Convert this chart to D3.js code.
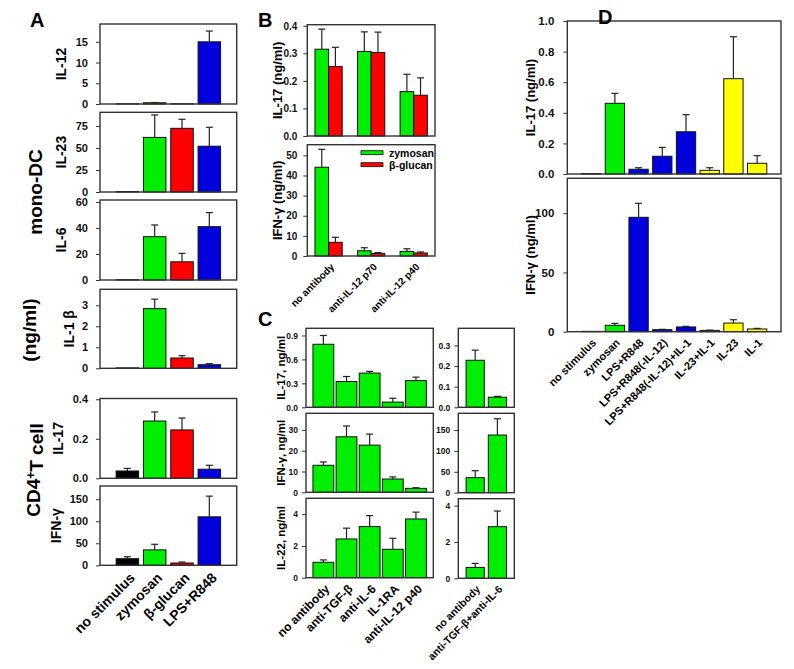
<!DOCTYPE html>
<html>
<head>
<meta charset="utf-8">
<script src="https://cdn.jsdelivr.net/npm/d3@7"></script>
<style>
  body { margin: 0; background: #fff; }
  svg { font-family: Arial, "Liberation Sans", sans-serif; font-weight: bold; }
</style>
</head>
<body>
<svg id="fig" width="794" height="669"></svg>
<script>
// ---- data ----
// panel A (mono-DC / CD4+ T cell)
var catA = ["no stimulus", "zymosan", "\u03b2-glucan", "LPS+R848"];
var il12A = [0.05, 0.3, 0.05, 15.0],      il12A_sd = [0, 0.05, 0, 2.6];
var il23A = [0.5, 62, 72.3, 52],          il23A_sd = [0, 25.5, 10.3, 21.5];
var il6A = [0.2, 33.3, 14, 41],           il6A_sd = [0, 9, 6.5, 10.8];
var il1bA = [0.02, 2.84, 0.49, 0.17],     il1bA_sd = [0, 0.45, 0.11, 0.05];
var il17A = [0.037, 0.29, 0.245, 0.046],  il17A_sd = [0.013, 0.046, 0.06, 0.02];
var ifngA = [15, 35, 5.2, 110],           ifngA_sd = [4.5, 12.7, 2.3, 47];

// panel B (antibody blocking, zymosan vs beta-glucan)
var catB = ["no antibody", "anti-IL-12 p70", "anti-IL-12 p40"];
var seriesB = ["zymosan", "\u03b2-glucan"];
var il17B_zym = [0.315, 0.307, 0.161],  il17B_zym_sd = [0.073, 0.071, 0.063];
var il17B_glu = [0.252, 0.303, 0.148],  il17B_glu_sd = [0.07, 0.074, 0.063];
var ifngB_zym = [44.1, 2.6, 2.3],       ifngB_zym_sd = [8.9, 1.5, 1.3];
var ifngB_glu = [6.8, 1.3, 1.5],        ifngB_glu_sd = [2.5, 0.4, 0.5];

// panel C
var catC = ["no antibody", "anti-TGF-\u03b2", "anti-IL-6", "IL-1RA", "anti-IL-12 p40"];
var il17C = [0.79, 0.323, 0.429, 0.065, 0.335], il17C_sd = [0.11, 0.063, 0.021, 0.048, 0.043];
var ifngC = [13, 26.7, 22.7, 6.4, 1.9],          ifngC_sd = [1.6, 5.2, 5.3, 1.0, 0.3];
var il22C = [0.97, 2.44, 3.22, 1.79, 3.7],       il22C_sd = [0.15, 0.68, 0.69, 0.69, 0.43];
var catC2 = ["no antibody", "anti-TGF-\u03b2+anti-IL-6"];
var il17C2 = [0.228, 0.049], il17C2_sd = [0.049, 0.004];
var ifngC2 = [36, 138],      ifngC2_sd = [16.6, 39];
var il22C2 = [0.6, 2.84],    il22C2_sd = [0.22, 0.86];

// panel D
var catD = ["no stimulus", "zymosan", "LPS+R848", "LPS+R848(-IL-12)", "LPS+R848(-IL-12)+IL-1",
            "IL-23+IL-1", "IL-23", "IL-1"];
var il17D = [0.003, 0.462, 0.031, 0.116, 0.276, 0.024, 0.623, 0.07];
var il17D_sd = [0, 0.065, 0.01, 0.058, 0.112, 0.017, 0.274, 0.05];
var ifngD = [0.3, 5.4, 96.5, 1.7, 4, 1.1, 7.3, 2.3];
var ifngD_sd = [0, 1.6, 11.8, 0.3, 0.5, 0.2, 2.8, 0.5];

// ---- colours ----
var GREEN = "#00ee00", RED = "#ff0000", BLUE = "#0000dd", YEL = "#ffff00", BLK = "#000000";
var colA = [BLK, GREEN, RED, BLUE];
var colD = [BLK, GREEN, BLUE, BLUE, BLUE, YEL, YEL, YEL];

var svg = d3.select("#fig");

function drawErr(g, cx, yv, ye, cap) {
  g.append("line").attr("x1", cx).attr("x2", cx).attr("y1", yv).attr("y2", ye)
    .attr("stroke", "#222").attr("stroke-width", 1.2);
  g.append("line").attr("x1", cx - cap).attr("x2", cx + cap).attr("y1", ye).attr("y2", ye)
    .attr("stroke", "#222").attr("stroke-width", 1.2);
}

function yAxis(g, o, y) {
  g.append("g").attr("transform", "translate(" + o.x0 + ",0)")
    .call(d3.axisLeft(y).tickValues(o.ticks).tickFormat(d3.format(o.fmt)).tickSize(4).tickPadding(o.pad))
    .call(function(a) { a.select(".domain").remove(); })
    .call(function(a) { a.selectAll("line").attr("stroke", "#333"); })
    .selectAll("text").style("font-size", o.fs + "px").attr("fill", "#111")
    .style("font-family", "Arial, 'Liberation Sans', sans-serif");
}

function frame(g, o) {
  g.append("rect").attr("x", o.x0).attr("y", o.y0)
    .attr("width", o.x1 - o.x0).attr("height", o.y1 - o.y0)
    .attr("fill", "none").attr("stroke", "#333").attr("stroke-width", 1.4);
}

function yLabel(g, o) {
  if (!o.label) return;
  g.append("text")
    .attr("transform", "translate(" + o.lx + "," + ((o.y0 + o.y1) / 2) + ") rotate(-90)")
    .attr("text-anchor", "middle")
    .style("font-size", o.lfs + "px")
    .text(o.label);
}

function xLabels(g, cats, xs, o) {
  cats.forEach(function(c, i) {
    g.append("text")
      .attr("transform", "translate(" + (xs[i] + o.cdx) + "," + (o.y1 + o.cdy) + ") rotate(-45)")
      .attr("text-anchor", "end")
      .attr("dy", "0.35em")
      .style("font-size", o.cfs + "px")
      .text(c);
  });
}

function barPanel(o) {
  var g = svg.append("g");
  var idx = d3.range(o.vals.length);
  var x = d3.scaleBand().domain(idx).range([o.x0, o.x1]).paddingInner(o.pin).paddingOuter(o.pout);
  var y = d3.scaleLinear().domain([0, o.max]).range([o.y1, o.y0]);
  yAxis(g, o, y);
  g.selectAll("rect.bar").data(o.vals).enter().append("rect")
    .attr("class", "bar")
    .attr("x", function(d, i) { return x(i); })
    .attr("width", x.bandwidth())
    .attr("y", function(d) { return y(d); })
    .attr("height", function(d) { return y(0) - y(d); })
    .attr("fill", function(d, i) { return o.colors[i]; })
    .attr("stroke", "#111").attr("stroke-width", 1);
  o.vals.forEach(function(v, i) {
    if (o.sd[i] > 0) drawErr(g, x(i) + x.bandwidth() / 2, y(v), y(v + o.sd[i]), 3.5);
  });
  frame(g, o);
  yLabel(g, o);
  if (o.cats) xLabels(g, o.cats, idx.map(function(i) { return x(i) + x.bandwidth() / 2; }), o);
}

function groupPanel(o) {
  var g = svg.append("g");
  var idx = d3.range(o.cats.length);
  var x = d3.scaleBand().domain(idx).range([o.x0, o.x1]).paddingInner(0.36).paddingOuter(0.18);
  var xs = d3.scaleBand().domain([0, 1]).range([0, x.bandwidth()]);
  var y = d3.scaleLinear().domain([0, o.max]).range([o.y1, o.y0]);
  yAxis(g, o, y);
  o.series.forEach(function(s, k) {
    s.vals.forEach(function(v, i) {
      var bx = x(i) + xs(k);
      g.append("rect").attr("x", bx).attr("width", xs.bandwidth())
        .attr("y", y(v)).attr("height", y(0) - y(v))
        .attr("fill", s.color).attr("stroke", "#111").attr("stroke-width", 1);
      drawErr(g, bx + xs.bandwidth() / 2, y(v), y(v + s.sd[i]), 3.5);
    });
  });
  frame(g, o);
  yLabel(g, o);
  if (o.showCats) xLabels(g, o.cats, idx.map(function(i) { return x(i) + x.bandwidth() / 2; }), o);
  return g;
}

// ---- panel A ----
var aBase = { x0: 100, x1: 236.7, pin: 0.176, pout: 0.59, colors: colA, fs: 11, pad: 8,
              lfs: 14, fmt: "d", cfs: 14, cdx: 5, cdy: 10 };
function A(extra) { return Object.assign({}, aBase, extra); }
barPanel(A({ y0: 24, y1: 104, max: 19.3, ticks: [0, 5, 10, 15], vals: il12A, sd: il12A_sd, label: "IL-12", lx: 66 }));
barPanel(A({ y0: 112.3, y1: 192, max: 90.5, ticks: [0, 25, 50, 75], vals: il23A, sd: il23A_sd, label: "IL-23", lx: 66 }));
barPanel(A({ y0: 200, y1: 280, max: 61.5, ticks: [0, 20, 40, 60], vals: il6A, sd: il6A_sd, label: "IL-6", lx: 66 }));
barPanel(A({ y0: 289.3, y1: 368.3, max: 3.76, ticks: [0, 1, 2, 3], vals: il1bA, sd: il1bA_sd, label: "IL-1 \u03b2", lx: 74 }));
barPanel(A({ y0: 398.5, y1: 478.3, max: 0.404, ticks: [0, 0.2, 0.4], fmt: ".1f", vals: il17A, sd: il17A_sd, label: "IL-17", lx: 63 }));
barPanel(A({ y0: 486, y1: 565.3, max: 180, ticks: [0, 50, 100, 150], vals: ifngA, sd: ifngA_sd, label: "IFN-\u03b3", lx: 61, cats: catA }));

svg.append("text").attr("x", 30).attr("y", 27).style("font-size", "20px").text("A");
svg.append("text").attr("transform", "translate(42,192) rotate(-90)").attr("text-anchor", "middle")
  .style("font-size", "19px").text("mono-DC");
svg.append("text").attr("transform", "translate(36,330) rotate(-90)").attr("text-anchor", "middle")
  .style("font-size", "19px").text("(ng/ml)");
var cd4 = svg.append("text").attr("transform", "translate(40,470) rotate(-90)").attr("text-anchor", "middle")
  .style("font-size", "19px");
cd4.append("tspan").text("CD4");
cd4.append("tspan").attr("dy", "-0.45em").style("font-size", "12px").text("+");
cd4.append("tspan").attr("dy", "0.45em").text("T cell");

// ---- panel B ----
var bBase = { x0: 307.3, x1: 435, cats: catB, fs: 10, pad: 6, lfs: 13, lx: 282, cfs: 10, cdx: 4, cdy: 9 };
groupPanel(Object.assign({}, bBase, {
  y0: 24.7, y1: 136, max: 0.404, ticks: [0, 0.1, 0.2, 0.3, 0.4], fmt: ".1f",
  label: "IL-17 (ng/ml)",
  series: [{ vals: il17B_zym, sd: il17B_zym_sd, color: GREEN }, { vals: il17B_glu, sd: il17B_glu_sd, color: RED }]
}));
groupPanel(Object.assign({}, bBase, {
  y0: 144.7, y1: 256, max: 55.3, ticks: [0, 10, 20, 30, 40, 50], fmt: "d",
  label: "IFN-\u03b3 (ng/ml)", showCats: true,
  series: [{ vals: ifngB_zym, sd: ifngB_zym_sd, color: GREEN }, { vals: ifngB_glu, sd: ifngB_glu_sd, color: RED }]
}));
svg.append("text").attr("x", 258).attr("y", 27).style("font-size", "20px").text("B");
var legB = svg.append("g");
[GREEN, RED].forEach(function(c, k) {
  var ly = 152.7 + k * 12;
  legB.append("rect").attr("x", 361).attr("y", ly - 2).attr("width", 22).attr("height", 4)
    .attr("fill", c).attr("stroke", "#111").attr("stroke-width", 0.8);
  legB.append("text").attr("x", 389).attr("y", ly + 4).style("font-size", "10.5px").text(seriesB[k]);
});

// ---- panel C ----
var cBase = { x0: 306, x1: 433.3, pin: 0.1, pout: 0.3, fs: 8.5, pad: 4, lfs: 11.5, lx: 285,
              cfs: 12, cdx: 4, cdy: 9 };
function Cc(extra) { return Object.assign({ colors: catC.map(function() { return GREEN; }) }, cBase, extra); }
barPanel(Cc({ y0: 328.3, y1: 407.3, max: 0.99, ticks: [0, 0.3, 0.6, 0.9], fmt: ".1f", vals: il17C, sd: il17C_sd, label: "IL-17, ng/ml" }));
barPanel(Cc({ y0: 413.3, y1: 492.3, max: 38, ticks: [0, 10, 20, 30], fmt: "d", vals: ifngC, sd: ifngC_sd, label: "IFN-\u03b3, ng/ml" }));
barPanel(Cc({ y0: 498.3, y1: 577.7, max: 5.0, ticks: [0, 2, 4], fmt: "d", vals: il22C, sd: il22C_sd, label: "IL-22, ng/ml", cats: catC }));

var c2Base = { x0: 458.3, x1: 514.3, pin: 0.18, pout: 0.35, fs: 8.5, pad: 4, colors: [GREEN, GREEN],
               cfs: 10.5, cdx: 3, cdy: 9 };
function C2(extra) { return Object.assign({}, c2Base, extra); }
barPanel(C2({ y0: 328.3, y1: 407.3, max: 0.383, ticks: [0, 0.1, 0.2, 0.3], fmt: ".1f", vals: il17C2, sd: il17C2_sd }));
barPanel(C2({ y0: 413.3, y1: 492.7, max: 190, ticks: [0, 50, 100, 150], fmt: "d", vals: ifngC2, sd: ifngC2_sd }));
barPanel(C2({ y0: 498.7, y1: 578.3, max: 4.38, ticks: [0, 2, 4], fmt: "d", vals: il22C2, sd: il22C2_sd, cats: catC2 }));
svg.append("text").attr("x", 258).attr("y", 326).style("font-size", "20px").text("C");

// ---- panel D ----
var dBase = { x0: 567.3, x1: 781, pin: 0.186, pout: 0.6, colors: colD, fs: 11.5, pad: 9, lfs: 13, lx: 535,
              cfs: 11, cdx: 3, cdy: 9 };
barPanel(Object.assign({}, dBase, { y0: 21, y1: 174, max: 1.0, ticks: [0, 0.2, 0.4, 0.6, 0.8, 1.0], fmt: ".1f",
  vals: il17D, sd: il17D_sd, label: "IL-17 (ng/ml)" }));
barPanel(Object.assign({}, dBase, { y0: 178.3, y1: 331.7, max: 129.4, ticks: [0, 50, 100], fmt: "d",
  vals: ifngD, sd: ifngD_sd, label: "IFN-\u03b3 (ng/ml)", cats: catD }));
svg.append("text").attr("x", 598).attr("y", 24).style("font-size", "20px").text("D");
</script>
</body>
</html>
